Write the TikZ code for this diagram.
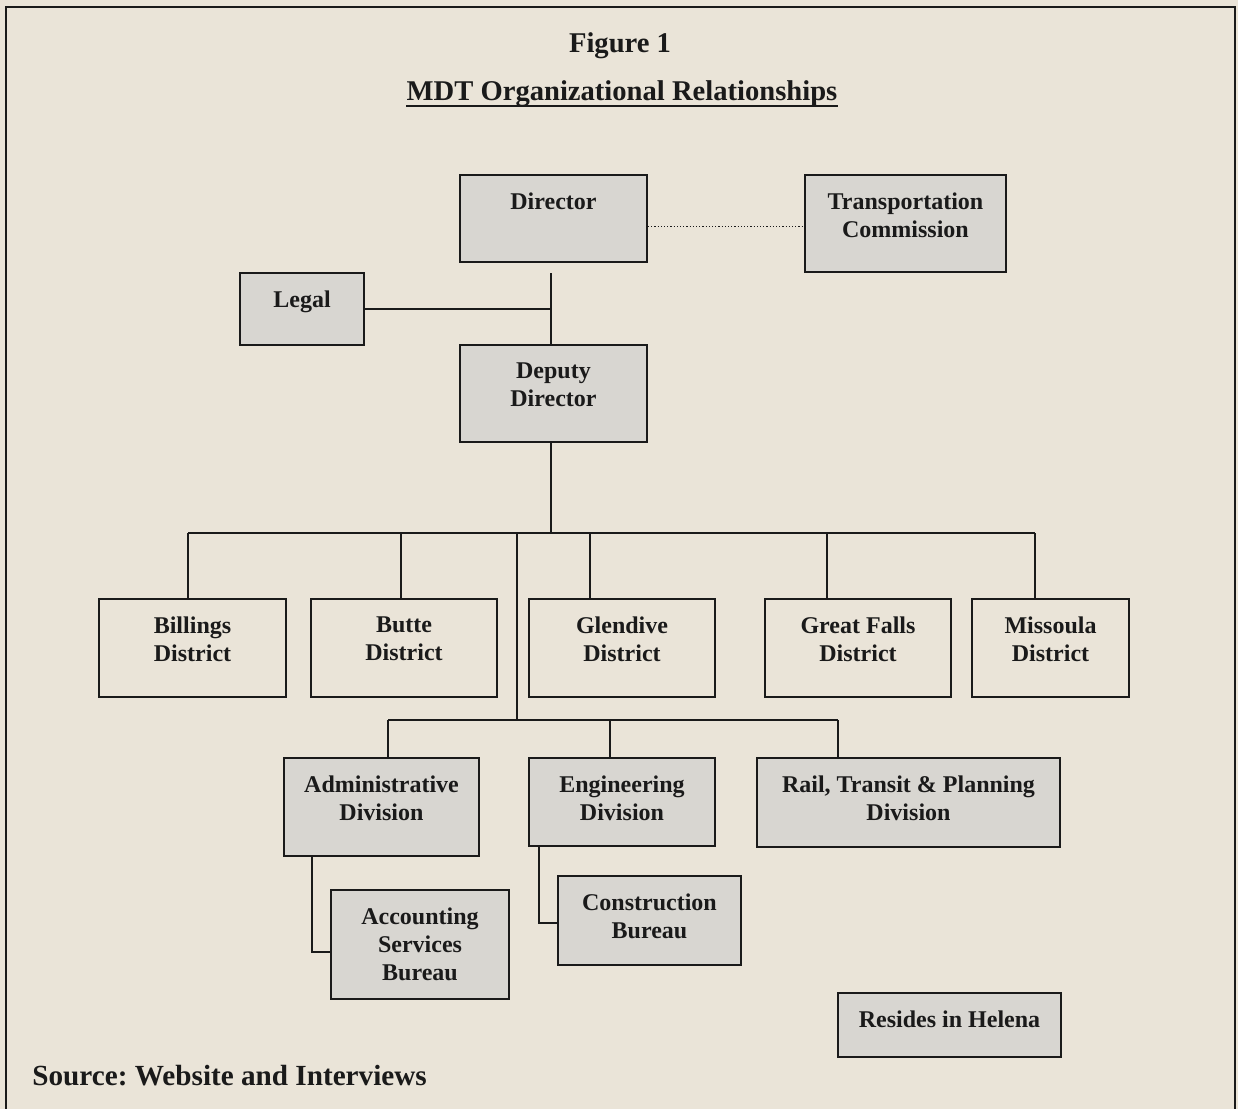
\documentclass[tikz,border=0pt]{standalone}
\usepackage{fontspec}
\setmainfont{Liberation Serif}
\usetikzlibrary{fit}
\definecolor{paper}{HTML}{EAE4D8}
\definecolor{shade}{HTML}{D8D6D1}
\definecolor{ink}{HTML}{1A1A1A}
\frenchspacing
\begin{document}
\begin{tikzpicture}[x=0.5pt,y=-0.5pt,
  box/.style={draw=ink, line width=1pt, inner sep=0pt, fill=shade},
  plainbox/.style={draw=ink, line width=1pt, inner sep=0pt, fill=paper},
  lab/.style={anchor=north, yshift=-9pt, inner sep=0pt, align=center,
    font=\fontsize{12}{14}\selectfont\bfseries, text=ink},
  titlefont/.style={anchor=base, inner sep=0pt, font=\fontsize{14.3}{16}\selectfont\bfseries, text=ink},
  conn/.style={draw=ink, line width=0.9pt}]
\fill[paper] (0,0) rectangle (1238,1109);
\useasboundingbox (0,0) rectangle (1238,1109);
\draw[ink, line width=0.8pt] (6,1109) -- (6,7) -- (1235,7) -- (1235,1109);

% titles
\node[titlefont] (fig) at (620,52) {Figure 1};
\node[titlefont] (ttl) at (622,100) {MDT Organizational Relationships};
\draw[ink, line width=0.9pt] ([yshift=-3pt]ttl.base west) -- ([yshift=-3pt]ttl.base east);
\node[anchor=base west, inner sep=0pt, font=\fontsize{14.6}{16}\selectfont\bfseries, text=ink] (src) at (32,1085) {Source: Website and Interviews};

% boxes
\node[box, fit={(460,175) (647,262)}, label={[lab]north:Director}] (dir) {};
\node[box, fit={(805,175) (1006,272)}, label={[lab]north:{Transportation\\Commission}}] (tc) {};
\node[box, fit={(240,273) (364,345)}, label={[lab]north:Legal}] (leg) {};
\node[box, fit={(460,345) (647,442)}, label={[lab]north:{Deputy\\Director}}] (dep) {};

\node[plainbox, fit={(99,599) (286,697)}, label={[lab]north:{Billings\\District}}] (bil) {};
\node[plainbox, fit={(311,599) (497,697)}, label={[lab]north:{Butte\\District}}] (but) {};
\node[plainbox, fit={(529,599) (715,697)}, label={[lab]north:{Glendive\\District}}] (gle) {};
\node[plainbox, fit={(765,599) (951,697)}, label={[lab]north:{Great Falls\\District}}] (grf) {};
\node[plainbox, fit={(972,599) (1129,697)}, label={[lab]north:{Missoula\\District}}] (mis) {};

\node[box, fit={(284,758) (479,856)}, label={[lab]north:{Administrative\\Division}}] (adm) {};
\node[box, fit={(529,758) (715,846)}, label={[lab]north:{Engineering\\Division}}] (eng) {};
\node[box, fit={(757,758) (1060,847)}, label={[lab]north:{Rail, Transit \& Planning\\Division}}] (rail) {};

\node[box, fit={(331,890) (509,999)}, label={[lab]north:{Accounting\\Services\\Bureau}}] (acc) {};
\node[box, fit={(558,876) (741,965)}, label={[lab]north:{Construction\\Bureau}}] (con) {};

\node[box, fit={(838,993) (1061,1057)}, label={[lab]north:{Resides in Helena}}] (res) {};

% connector points
\coordinate (top) at (551,273);
\coordinate (bus) at (551,533);
\coordinate (b1) at (188,533);
\coordinate (b2) at (401,533);
\coordinate (b3) at (590,533);
\coordinate (b4) at (827,533);
\coordinate (b5) at (1035,533);
\coordinate (v1) at (517,533);
\coordinate (v2) at (517,720);
\coordinate (c1) at (388,720);
\coordinate (c2) at (610,720);
\coordinate (c3) at (838,720);
\coordinate (k1) at (312,952);
\coordinate (k2) at (539,923);

% connectors
\draw[ink, line width=0.6pt, densely dotted] ([yshift=-4pt]dir.east) -- ([yshift=-4pt]dir.east -| tc.west);
\draw[conn] (top) -- (dep.north -| top);
\draw[conn] (leg.east) -- (leg.east -| top);
\draw[conn] (dep.south -| bus) -- (bus);
\draw[conn] (b1) -- (b5);
\foreach \n/\c in {bil/b1, but/b2, gle/b3, grf/b4, mis/b5}
  \draw[conn] (\c) -- (\n.north -| \c);
\draw[conn] (v1) -- (v2);
\draw[conn] (c1) -- (c3);
\foreach \n/\c in {adm/c1, eng/c2, rail/c3}
  \draw[conn] (\c) -- (\n.north -| \c);
\draw[conn] (adm.south -| k1) -- (k1) -- (acc.west |- k1);
\draw[conn] (eng.south -| k2) -- (k2) -- (con.west |- k2);
\end{tikzpicture}
\end{document}
